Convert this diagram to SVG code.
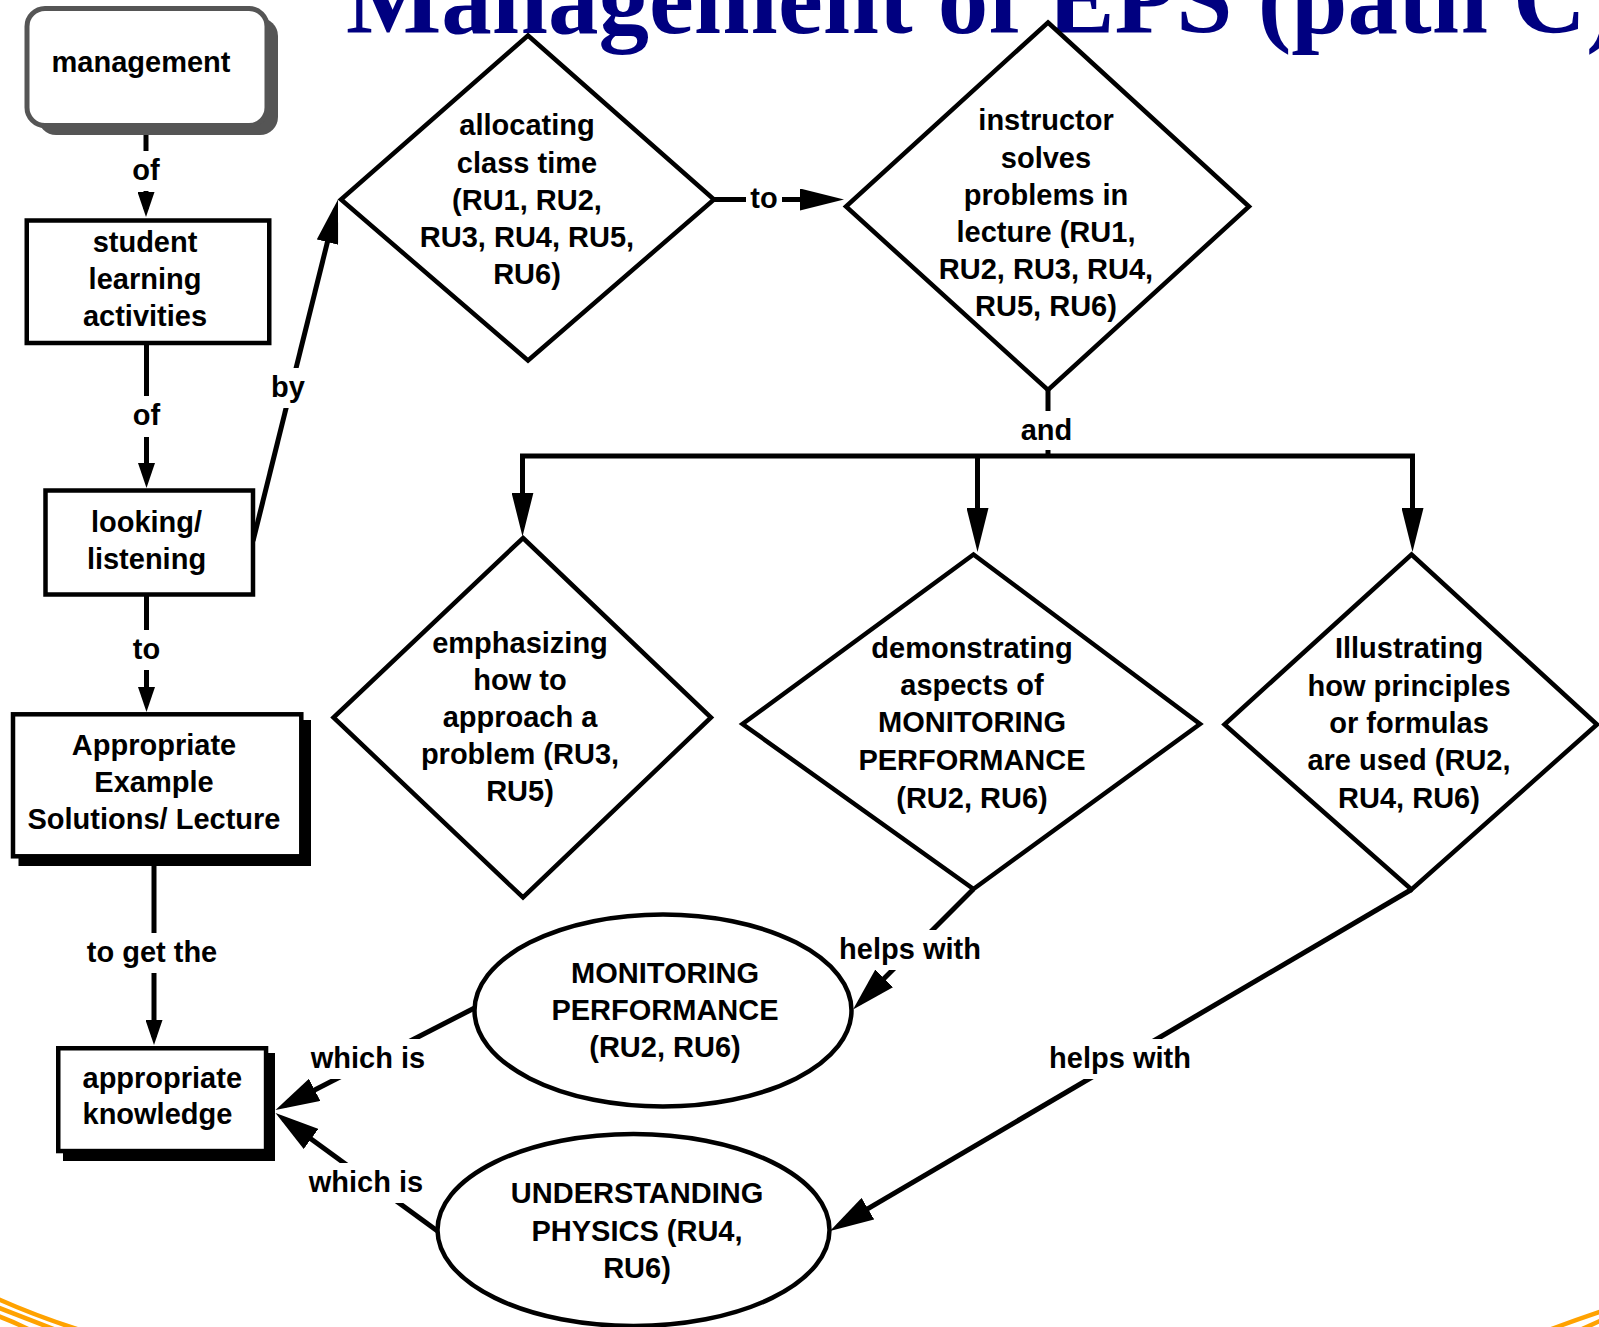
<svg xmlns="http://www.w3.org/2000/svg" width="1599" height="1327" viewBox="0 0 1599 1327">
  <style>
    .t { font-family: "Liberation Sans", Arial, sans-serif; font-weight: bold; font-size: 29px; fill: #000; text-anchor: middle; }
    .tl { text-anchor: start; }
    .title { font-family: "Liberation Serif", "Times New Roman", serif; font-weight: bold; font-size: 101px; fill: #000080; }
    .shape { fill: #fff; stroke: #000; stroke-width: 4.5; }
    .conn { fill: none; stroke: #000; stroke-width: 5; stroke-linejoin: miter; }
    .lbg { fill: #fff; }
    .swoosh { fill: none; stroke: #ffa200; stroke-width: 4.5; }
  </style>
  <defs>
    <marker id="ah-s" markerUnits="userSpaceOnUse" markerWidth="25" markerHeight="17" refX="17" refY="8.5" orient="auto">
      <path d="M0,0 L25,8.5 L0,17 Z" fill="#000"/>
    </marker>
    <marker id="ah-l" markerUnits="userSpaceOnUse" markerWidth="44" markerHeight="22" refX="34" refY="11" orient="auto">
      <path d="M0,0 L44,11 L0,22 Z" fill="#000"/>
    </marker>
    <marker id="ah-b" markerUnits="userSpaceOnUse" markerWidth="44" markerHeight="25" refX="34" refY="12.5" orient="auto">
      <path d="M0,0 L44,12.5 L0,25 Z" fill="#000"/>
    </marker>
  </defs>

  <rect width="1599" height="1327" fill="#fff"/>

  <!-- slide decoration -->
  <g id="decor">
    <path class="swoosh" d="M-2,1299 Q36,1316 80,1330"/>
    <path class="swoosh" d="M-2,1307.5 Q28,1319 56,1330"/>
    <path class="swoosh" d="M-2,1316 Q14,1322 30,1330"/>
    <path class="swoosh" d="M1549,1330 Q1575,1320 1602,1311"/>
    <path class="swoosh" d="M1580,1330 Q1591,1325 1602,1320"/>
  </g>

  <text id="title" class="title" x="346" y="33">Management of EPS (path C)</text>

  <g id="connectors">
    <g id="connector-lines">
      <path class="conn" d="M146,130 V209" marker-end="url(#ah-s)"/>
      <path class="conn" d="M146.5,345 V480" marker-end="url(#ah-s)"/>
      <path class="conn" d="M146.5,596 V704" marker-end="url(#ah-s)"/>
      <path class="conn" d="M154,866 V1037" marker-end="url(#ah-s)"/>
      <path class="conn" d="M253,541 L335.6,209.2" marker-end="url(#ah-l)"/>
      <path class="conn" d="M714,199.5 H834" marker-end="url(#ah-l)"/>
      <path class="conn" d="M1048,390 V456"/>
      <path class="conn" d="M522.5,526.5 V456 H1412.5 V542" marker-end="url(#ah-l)"/>
      <path class="conn" d="M522.5,456 V526.5" marker-end="url(#ah-l)"/>
      <path class="conn" d="M977.5,456 V542" marker-end="url(#ah-l)"/>
      <path class="conn" d="M973.5,889 L860.1,1002.4" marker-end="url(#ah-b)"/>
      <path class="conn" d="M1411.5,889.5 L838.6,1225.9" marker-end="url(#ah-b)"/>
      <path class="conn" d="M474.5,1008 L284.4,1105.4" marker-end="url(#ah-b)"/>
      <path class="conn" d="M437.5,1231 L283.6,1118.9" marker-end="url(#ah-b)"/>
    </g>
    <g id="connector-labels">
      <rect class="lbg" x="128" y="151" width="36" height="40"/>
      <text class="t" x="146" y="180">of</text>
      <rect class="lbg" x="128" y="396" width="37" height="41"/>
      <text class="t" x="146.5" y="425">of</text>
      <rect class="lbg" x="128" y="630" width="37" height="40"/>
      <text class="t" x="146.5" y="658.5">to</text>
      <rect class="lbg" x="82" y="933" width="140" height="40"/>
      <text class="t" x="152" y="962">to get the</text>
      <rect class="lbg" x="267" y="368" width="42" height="40"/>
      <text class="t" x="288" y="397">by</text>
      <rect class="lbg" x="746" y="179" width="36" height="40"/>
      <text class="t" x="764" y="208">to</text>
      <rect class="lbg" x="1024" y="411" width="45" height="39"/>
      <text class="t" x="1046.5" y="440">and</text>
      <rect class="lbg" x="837" y="930" width="146" height="40"/>
      <text class="t" x="910" y="959.3">helps with</text>
      <rect class="lbg" x="1049" y="1039" width="142" height="40"/>
      <text class="t" x="1120" y="1068.3">helps with</text>
      <rect class="lbg" x="309" y="1039" width="118" height="40"/>
      <text class="t" x="368" y="1068.3">which is</text>
      <rect class="lbg" x="307" y="1163" width="118" height="40"/>
      <text class="t" x="366" y="1192">which is</text>
    </g>
  </g>

  <g id="nodes">
    <g id="management">
      <rect x="38" y="18" width="240" height="117" rx="18" fill="#555"/>
      <rect x="27" y="8.5" width="240" height="117" rx="18" fill="#fff" stroke="#555" stroke-width="5"/>
      <text class="t" x="141" y="72">management</text>
    </g>
    <g id="student-learning-activities">
      <rect class="shape" x="26.75" y="220.5" width="242.5" height="122.5"/>
      <text class="t" x="145" y="252">student</text>
      <text class="t" x="145" y="289">learning</text>
      <text class="t" x="145" y="326">activities</text>
    </g>
    <g id="looking-listening">
      <rect class="shape" x="45.5" y="490.5" width="207.5" height="104"/>
      <text class="t" x="146.5" y="532">looking/</text>
      <text class="t" x="146.5" y="568.5">listening</text>
    </g>
    <g id="example-solutions">
      <rect x="18.5" y="720" width="292.5" height="146" fill="#000"/>
      <rect class="shape" x="13" y="714.3" width="288.3" height="142" stroke-width="4"/>
      <text class="t" x="154" y="755">Appropriate</text>
      <text class="t" x="154" y="792">Example</text>
      <text class="t" x="154" y="828.5">Solutions/ Lecture</text>
    </g>
    <g id="appropriate-knowledge">
      <rect x="63" y="1053" width="212" height="108" fill="#000"/>
      <rect class="shape" x="58.25" y="1048.25" width="207.8" height="102.8"/>
      <text class="t tl" x="82.5" y="1088">appropriate</text>
      <text class="t tl" x="82.5" y="1123.5">knowledge</text>
    </g>
    <g id="allocating-class-time">
      <polygon class="shape" points="528,35.5 714,199.5 528,360.5 341,199.5"/>
      <text class="t" x="527" y="135">allocating</text>
      <text class="t" x="527" y="172.5">class time</text>
      <text class="t" x="527" y="210">(RU1, RU2,</text>
      <text class="t" x="527" y="247">RU3, RU4, RU5,</text>
      <text class="t" x="527" y="284">RU6)</text>
    </g>
    <g id="instructor-solves">
      <polygon class="shape" points="1048,22.5 1249,206.5 1048,390 846,206.5"/>
      <text class="t" x="1046" y="130">instructor</text>
      <text class="t" x="1046" y="167.5">solves</text>
      <text class="t" x="1046" y="204.5">problems in</text>
      <text class="t" x="1046" y="241.5">lecture (RU1,</text>
      <text class="t" x="1046" y="278.5">RU2, RU3, RU4,</text>
      <text class="t" x="1046" y="316">RU5, RU6)</text>
    </g>
    <g id="emphasizing">
      <polygon class="shape" points="523,538 711,717.5 523,897.5 333.5,717.5"/>
      <text class="t" x="520" y="653">emphasizing</text>
      <text class="t" x="520" y="690">how to</text>
      <text class="t" x="520" y="727">approach a</text>
      <text class="t" x="520" y="764">problem (RU3,</text>
      <text class="t" x="520" y="801">RU5)</text>
    </g>
    <g id="demonstrating">
      <polygon class="shape" points="973.5,554.5 1200,724 973.5,889 742.5,724"/>
      <text class="t" x="972" y="658">demonstrating</text>
      <text class="t" x="972" y="695">aspects of</text>
      <text class="t" x="972" y="732">MONITORING</text>
      <text class="t" x="972" y="770">PERFORMANCE</text>
      <text class="t" x="972" y="808">(RU2, RU6)</text>
    </g>
    <g id="illustrating">
      <polygon class="shape" points="1411.5,554.5 1597,724.5 1411.5,889.5 1224.5,724.5"/>
      <text class="t" x="1409" y="658">Illustrating</text>
      <text class="t" x="1409" y="695.5">how principles</text>
      <text class="t" x="1409" y="732.5">or formulas</text>
      <text class="t" x="1409" y="770">are used (RU2,</text>
      <text class="t" x="1409" y="808">RU4, RU6)</text>
    </g>
    <g id="monitoring-performance">
      <ellipse class="shape" cx="663" cy="1010.5" rx="188.5" ry="96"/>
      <text class="t" x="665" y="982.5">MONITORING</text>
      <text class="t" x="665" y="1020">PERFORMANCE</text>
      <text class="t" x="665" y="1057">(RU2, RU6)</text>
    </g>
    <g id="understanding-physics">
      <ellipse class="shape" cx="633.5" cy="1230" rx="196" ry="96"/>
      <text class="t" x="637" y="1203">UNDERSTANDING</text>
      <text class="t" x="637" y="1240.5">PHYSICS (RU4,</text>
      <text class="t" x="637" y="1277.5">RU6)</text>
    </g>
  </g>
</svg>
